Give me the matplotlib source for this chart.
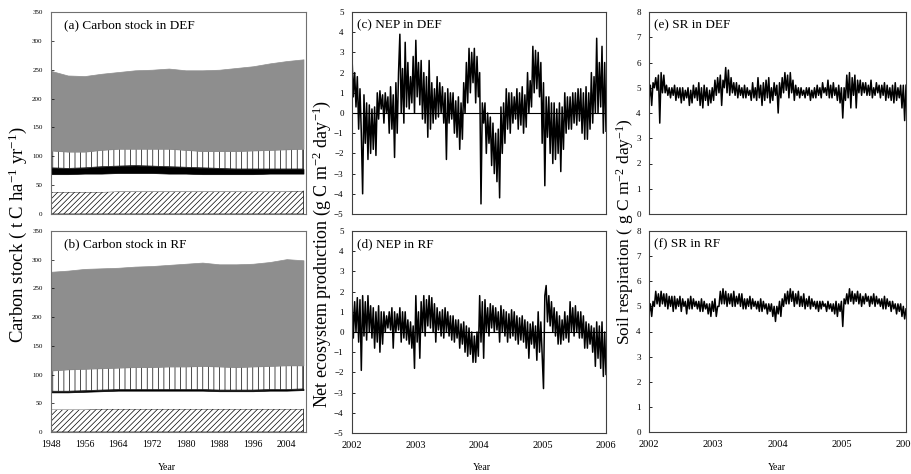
import numpy as np
import matplotlib.pyplot as plt

plt.rcParams['font.family'] = ['Liberation Serif', 'DejaVu Serif']
plt.rcParams['mathtext.fontset'] = 'custom'
plt.rcParams['mathtext.rm'] = 'Liberation Serif'
plt.rcParams['mathtext.it'] = 'Liberation Serif:italic'
plt.rcParams['hatch.linewidth'] = 0.5

# ---- carbon stock layers (t C / ha), read every 4 years ----
years = [1948, 1952, 1956, 1960, 1964, 1968, 1972, 1976,
         1980, 1984, 1988, 1992, 1996, 2000, 2004, 2008]

def_soil = [38, 38, 38, 38, 39, 39, 39, 39, 39, 39, 39, 39, 39, 39, 39, 40]
def_white = [31, 31, 32, 32, 32, 32, 32, 31, 31, 30, 30, 30, 30, 31, 31, 30]
def_black = [11, 10, 10, 12, 12, 13, 12, 12, 11, 11, 10, 9, 9, 8, 8, 8]
def_vert = [30, 29, 28, 29, 30, 29, 30, 31, 30, 29, 30, 31, 32, 33, 34, 35]
def_gray = [138, 132, 131, 132, 133, 136, 137, 139, 138, 140, 141, 144, 146, 150, 153, 155]

rf_soil = [39, 39, 39, 40, 40, 40, 40, 40, 40, 40, 40, 40, 40, 40, 40, 40]
rf_white = [30, 30, 31, 31, 32, 32, 32, 32, 32, 32, 31, 31, 31, 32, 32, 33]
rf_black = [2, 2, 2, 2, 2, 2, 2, 2, 2, 2, 2, 2, 2, 2, 2, 2]
rf_vert = [36, 38, 38, 38, 38, 39, 39, 40, 40, 41, 41, 40, 41, 41, 42, 41]
rf_gray = [172, 172, 174, 174, 174, 175, 176, 177, 179, 180, 178, 179, 179, 181, 185, 183]

# ---- daily series, 4 readings per month, Jan 2002 - Dec 2005 ----
nep_def = [
    2.8, 0.8, 2.0, 0.3,   1.8, -0.8, 1.2, -1.0,   -4.0, 0.9, -1.5, 0.5,
    -2.3, 0.4, -2.0, 0.2,   -1.8, 0.3, -2.1, 1.0,   -0.3, 1.1, 0.2, 0.9,
    -0.5, 1.0, 0.0, 0.8,   -1.0, 1.3, -0.8, 0.9,   -2.2, 1.5, -1.0, 2.0,
    3.9, 0.0, 2.2, -0.5,   3.5, 0.3, 2.5, 0.2,   1.8, 0.5, 2.8, 0.0,
    3.6, 0.8, 2.5, 0.4,   2.6, -0.3, 2.0, -0.5,   1.8, -1.2, 2.6, -0.8,
    1.5, -0.5, 1.2, -0.3,   1.8, -0.2, 1.5, 0.0,   1.3, -0.5, 1.0, -2.3,
    1.2, -0.5, 1.0, -0.3,   1.0, -1.0, 0.6, -1.2,   0.8, -1.8, 0.5, -1.3,
    1.5, 0.0, 2.5, 0.5,   3.2, 1.0, 3.0, 1.5,   3.2, 0.5, 2.8, 0.8,
    2.0, -4.5, 0.5, -0.5,   0.5, -2.0, 0.0, -1.5,   -0.2, -2.6, -0.5, -3.0,
    -1.0, -3.4, -0.8, -4.2,   0.3, -2.0, 0.5, -1.5,   1.2, -0.8, 1.0, -1.0,
    1.0, -0.5, 0.8, -0.3,   1.2, -0.8, 1.0, -0.6,   1.3, -1.0, 0.9, -0.7,
    2.0, 0.0, 1.6, 0.3,   3.3, 1.0, 3.1, 1.2,   3.0, 0.8, 2.5, -1.5,
    1.5, -3.6, 0.8, -1.2,   0.8, -2.0, 0.5, -2.5,   0.5, -2.3, 0.2, -2.0,
    0.5, -2.9, 0.3, -1.8,   1.0, -1.0, 0.8, -0.8,   0.8, -0.8, 1.0, -0.5,
    1.0, -0.6, 1.2, -0.4,   1.2, -1.0, 1.0, -1.3,   1.3, -1.3, 1.0, -0.8,
    2.0, -0.5, 1.8, 0.0,   3.7, 0.0, 2.5, 0.3,   3.3, -1.0, 2.5, -0.9,
]

nep_rf = [
    1.8, -0.3, 1.5, 0.0,   1.7, -0.5, 1.6, -1.9,   1.8, -0.2, 1.5, -0.4,
    1.8, 0.0, 1.3, -0.3,   1.2, -0.8, 1.0, -0.5,   1.3, -1.0, 1.0, -0.6,
    1.0, 0.0, 0.8, 0.2,   1.0, 0.1, 1.2, -0.8,   1.0, 0.0, 0.9, 0.1,
    1.2, -0.5, 1.0, -0.3,   1.0, -0.4, 0.6, -0.6,   0.5, -0.8, 0.3, -1.8,
    1.8, -0.5, 1.0, -1.3,   1.5, 0.0, 1.8, -0.2,   1.6, 0.3, 1.8, 0.2,
    1.7, 0.0, 1.4, -0.5,   1.2, 0.1, 1.0, -0.2,   1.1, -0.3, 1.2, 0.0,
    1.0, -0.2, 0.8, -0.4,   0.8, -0.5, 0.6, -0.3,   0.6, -0.8, 0.4, -0.6,
    0.5, -1.0, 0.3, -1.2,   0.2, -1.1, 0.0, -1.5,   -0.2, -1.5, 0.0, -1.2,
    1.8, -0.5, 1.5, -1.3,   1.6, 0.0, 1.2, -0.2,   1.4, 0.2, 1.3, 0.0,
    1.2, 0.1, 1.0, -0.5,   1.3, 0.0, 1.1, -0.2,   1.0, -0.5, 0.9, -0.3,
    1.1, -0.2, 1.0, -0.4,   0.8, -0.6, 0.7, -0.4,   0.8, -0.5, 0.6, -0.8,
    0.5, -1.3, 0.4, -0.6,   0.5, -0.8, 0.3, -1.4,   1.0, -1.0, 0.5, -1.2,
    -2.8, 1.8, 2.3, 0.5,   1.8, 0.3, 1.5, 0.0,   1.2, -0.2, 1.0, -0.6,
    0.8, -0.6, 0.6, -0.4,   1.0, -0.3, 0.8, -0.5,   1.5, 0.0, 1.2, -0.2,
    1.3, 0.0, 1.0, -0.3,   1.0, -0.3, 0.8, -0.8,   0.5, -0.8, 0.4, -0.6,
    0.3, -1.0, 0.2, -1.7,   0.5, -1.3, 0.3, -1.8,   0.5, -2.2, 0.0, -2.1,
]

sr_def = [
    4.5, 5.1, 4.3, 5.2,   5.0, 5.4, 4.9, 5.5,   3.6, 5.6, 4.8, 5.5,
    4.8, 5.1, 4.7, 5.0,   4.6, 5.0, 4.7, 5.1,   4.5, 5.0, 4.6, 5.0,
    4.4, 5.0, 4.5, 4.9,   4.6, 5.0, 4.3, 4.9,   4.4, 5.1, 4.6, 5.0,
    4.5, 5.2, 4.3, 5.0,   4.2, 5.1, 4.5, 5.0,   4.3, 4.9, 4.4, 5.0,
    4.5, 5.3, 4.7, 5.4,   4.8, 5.5, 4.3, 5.3,   5.0, 5.8, 4.8, 5.7,
    4.7, 5.4, 4.8, 5.2,   4.7, 5.2, 4.6, 5.1,   4.7, 5.0, 4.6, 5.1,
    4.6, 5.0, 4.7, 4.9,   4.5, 5.2, 4.6, 5.0,   4.5, 5.4, 4.6, 5.1,
    4.3, 5.2, 4.5, 5.3,   4.6, 5.4, 4.4, 5.0,   4.5, 5.2, 4.7, 5.1,
    4.0, 5.2, 4.6, 5.4,   4.8, 5.6, 4.9, 5.5,   4.6, 5.6, 4.8, 5.3,
    4.5, 5.1, 4.7, 5.0,   4.6, 5.0, 4.7, 4.9,   4.6, 5.0, 4.7, 5.0,
    4.5, 4.9, 4.6, 5.0,   4.6, 5.1, 4.7, 5.0,   4.6, 5.2, 4.8, 5.0,
    4.7, 5.3, 4.6, 5.1,   4.6, 5.2, 4.7, 5.0,   4.5, 5.1, 4.4, 5.0,
    3.8, 5.0, 4.5, 5.5,   4.6, 5.6, 4.2, 5.4,   4.7, 5.5, 4.2, 5.3,
    4.8, 5.3, 4.7, 5.2,   4.8, 5.2, 4.7, 5.1,   4.7, 5.3, 4.6, 5.0,
    4.7, 5.2, 4.8, 5.1,   4.6, 5.1, 4.7, 5.2,   4.5, 5.1, 4.6, 5.0,
    4.5, 5.1, 4.4, 5.2,   4.5, 5.0, 4.6, 5.1,   4.2, 5.1, 3.7, 5.1,
]

sr_rf = [
    4.7, 5.1, 4.6, 5.2,   5.0, 5.6, 5.1, 5.5,   5.0, 5.6, 5.1, 5.5,
    5.0, 5.5, 4.9, 5.4,   5.0, 5.4, 4.8, 5.4,   4.9, 5.3, 5.0, 5.4,
    4.8, 5.3, 5.0, 5.2,   4.7, 5.3, 4.9, 5.4,   4.9, 5.3, 5.0, 5.2,
    4.9, 5.2, 4.8, 5.3,   4.8, 5.2, 4.9, 5.1,   4.7, 5.1, 4.6, 5.2,
    4.8, 5.3, 4.6, 5.0,   5.0, 5.6, 5.1, 5.7,   5.1, 5.6, 5.0, 5.5,
    5.1, 5.5, 5.0, 5.6,   5.0, 5.4, 5.1, 5.5,   5.0, 5.5, 4.9, 5.3,
    4.9, 5.3, 5.0, 5.4,   4.9, 5.3, 5.0, 5.2,   4.9, 5.2, 4.8, 5.3,
    4.8, 5.2, 4.9, 5.1,   4.7, 5.1, 4.8, 5.1,   4.6, 5.0, 4.4, 5.0,
    4.7, 5.2, 4.6, 5.3,   5.0, 5.5, 5.1, 5.6,   5.1, 5.7, 5.2, 5.6,
    5.0, 5.5, 5.1, 5.6,   5.0, 5.4, 5.0, 5.5,   4.9, 5.3, 5.0, 5.4,
    4.9, 5.3, 5.0, 5.2,   4.9, 5.2, 4.8, 5.2,   4.9, 5.2, 5.0, 5.1,
    4.8, 5.2, 4.9, 5.1,   4.8, 5.1, 4.7, 5.2,   4.6, 5.1, 4.8, 5.2,
    4.2, 5.3, 5.1, 5.5,   5.1, 5.7, 5.2, 5.6,   5.1, 5.5, 5.2, 5.6,
    5.1, 5.5, 5.0, 5.4,   5.1, 5.5, 5.2, 5.4,   5.0, 5.4, 5.1, 5.5,
    5.0, 5.4, 5.1, 5.3,   5.0, 5.3, 4.9, 5.4,   4.9, 5.3, 5.0, 5.2,
    4.8, 5.2, 4.9, 5.1,   4.7, 5.1, 4.8, 5.1,   4.6, 5.0, 4.5, 4.9,
]

year_ticks = [2002, 2003, 2004, 2005, 2006]
carbon_ticks = [1948, 1956, 1964, 1972, 1980, 1988, 1996, 2004]

fig = plt.figure(figsize=(9.12, 4.74), dpi=100)
W, H = 912.0, 474.0


def add_ax(x0, x1, y0, y1):
    return fig.add_axes([x0 / W, 1 - y1 / H, (x1 - x0) / W, (y1 - y0) / H])


def carbon_panel(ax, layers, title):
    yr = np.array(years)
    base = np.zeros(len(yr))
    styles = [
        dict(facecolor='white', edgecolor='black', hatch='//////', lw=0.5),
        dict(facecolor='white', edgecolor='none', lw=0),
        dict(facecolor='black', edgecolor='black', lw=0.5),
        dict(facecolor='white', edgecolor='black', hatch='|||', lw=0.5),
        dict(facecolor='#8e8e8e', edgecolor='#8e8e8e', lw=0.5),
    ]
    for vals, st in zip(layers, styles):
        top = base + np.array(vals)
        ax.fill_between(yr, base, top, **st)
        base = top
    ax.set_xlim(1948, 2008.6)
    ax.set_ylim(0, 350)
    ax.set_yticks(range(0, 351, 50))
    ax.set_xticks(carbon_ticks)
    ax.tick_params(axis='y', labelsize=5, direction='in', length=2, width=0.5, pad=6)
    ax.tick_params(axis='x', labelsize=7, direction='in', length=0, pad=6)
    for s in ax.spines.values():
        s.set_color('#707070')
        s.set_linewidth(0.8)
    ax.text(0.05, 0.935, title, transform=ax.transAxes, fontsize=9.5, va='center')


def series_panel(ax, vals, ylim, title, zero_line=False):
    x = np.linspace(2002, 2006, len(vals))
    ax.plot(x, vals, color='black', lw=1.1)
    if zero_line:
        ax.axhline(0, color='black', lw=0.8)
    ax.set_xlim(2002, 2006)
    ax.set_ylim(*ylim)
    ax.set_yticks(range(ylim[0], ylim[1] + 1))
    ax.set_xticks(year_ticks)
    ax.tick_params(axis='y', labelsize=6.5, direction='in', length=2.5, width=0.6, pad=6)
    ax.tick_params(axis='x', labelsize=7.5, direction='in', length=0, pad=6)
    for s in ax.spines.values():
        s.set_color('#404040')
        s.set_linewidth(0.8)
    ax.text(0.02, 0.935, title, transform=ax.transAxes, fontsize=9.5, va='center')


ax_a = add_ax(51, 306, 12, 214)
ax_b = add_ax(51, 306, 231, 432)
ax_c = add_ax(352, 606, 12, 214)
ax_d = add_ax(352, 606, 231, 433)
ax_e = add_ax(649, 906, 12, 214)
ax_f = add_ax(649, 906, 231, 432)

carbon_panel(ax_a, [def_soil, def_white, def_black, def_vert, def_gray], '(a) Carbon stock in DEF')
carbon_panel(ax_b, [rf_soil, rf_white, rf_black, rf_vert, rf_gray], '(b) Carbon stock in RF')
ax_a.set_xticklabels([])

series_panel(ax_c, nep_def, (-5, 5), '(c) NEP in DEF', zero_line=True)
series_panel(ax_d, nep_rf, (-5, 5), '(d) NEP in RF', zero_line=True)
series_panel(ax_e, sr_def, (0, 8), '(e) SR in DEF')
series_panel(ax_f, sr_rf, (0, 8), '(f) SR in RF')
ax_c.set_xticklabels([])
ax_e.set_xticklabels([])

fig.text(18 / W, 1 - 235 / H, 'Carbon stock ( t C ha$^{-1}$ yr$^{-1}$)', rotation=90,
         ha='center', va='center', fontsize=13.5)
fig.text(322 / W, 1 - 254 / H, 'Net ecosystem production (g C m$^{-2}$ day$^{-1}$)', rotation=90,
         ha='center', va='center', fontsize=13)
fig.text(625 / W, 1 - 232 / H, 'Soil respiration ( g C m$^{-2}$ day$^{-1}$)', rotation=90,
         ha='center', va='center', fontsize=12.5)

for xc in (167, 482, 777):
    fig.text(xc / W, 1 - 467 / H, 'Year', ha='center', va='center', fontsize=7)

fig.savefig('out.png', dpi=100)
